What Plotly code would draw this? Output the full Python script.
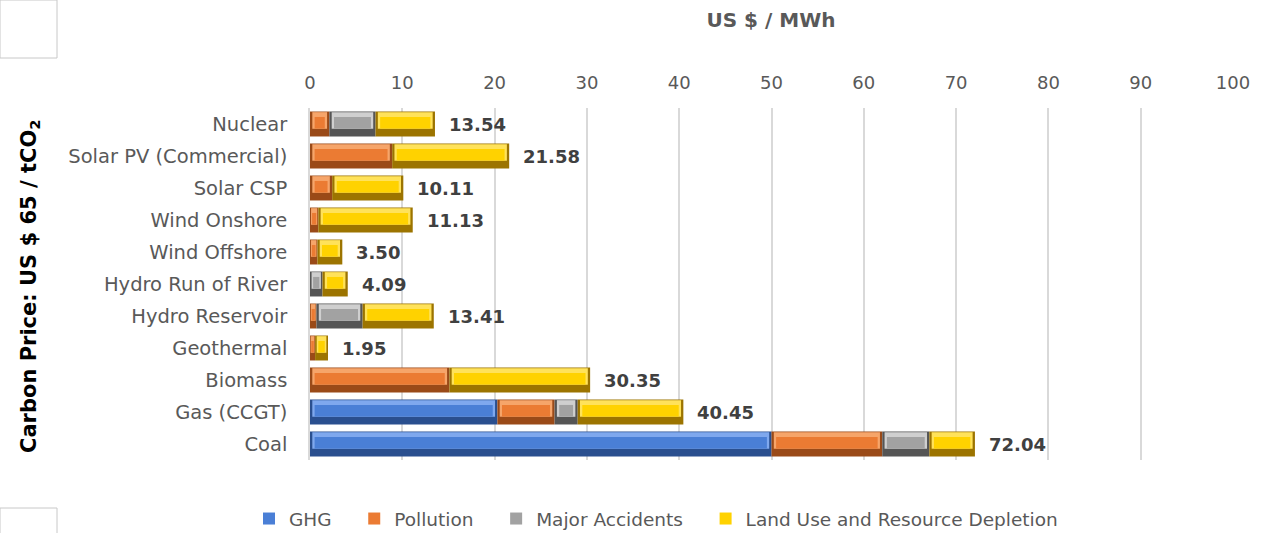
import numpy as np
import plotly.graph_objects as go

categories = ["Nuclear", "Solar PV (Commercial)", "Solar CSP", "Wind Onshore",
              "Wind Offshore", "Hydro Run of River", "Hydro Reservoir",
              "Geothermal", "Biomass", "Gas (CCGT)", "Coal"]
ghg = [0, 0, 0, 0, 0, 0, 0, 0, 0, 20.30, 50.00]
pollution = [2.10, 8.90, 2.40, 0.90, 0.80, 0.00, 0.70, 0.55, 15.10, 6.20, 12.00]
accidents = [5.00, 0, 0, 0, 0, 1.35, 5.00, 0, 0, 2.50, 5.10]
land_use = [6.44, 12.68, 7.71, 10.23, 2.70, 2.74, 7.71, 1.40, 15.25, 11.45, 4.94]
x_ticks = [0, 10, 20, 30, 40, 50, 60, 70, 80, 90, 100]

series = [
    ("GHG", ghg, ("#2A4F8F", "#7FA8EE", "#4A7FD6")),
    ("Pollution", pollution, ("#9A4A18", "#F6A56A", "#EB7B33")),
    ("Major Accidents", accidents, ("#555555", "#CFCFCF", "#A2A2A2")),
    ("Land Use and Resource Depletion", land_use, ("#9C7400", "#FFE25A", "#FFD200")),
]

FONT = "DejaVu Sans"
GREY = "#595959"
PAD = "\u00a0" * 3  # extra room between legend entries

fig = go.Figure()
start = np.zeros(len(categories))
for i, (name, vals, (dark, light, main)) in enumerate(series):
    v = np.array(vals, dtype=float)
    inset = np.minimum(0.5, v / 4)
    # bevelled bar: dark body, light upper strip, main-colour centre band
    fig.add_trace(go.Bar(y=categories, x=v, base=start, orientation="h", width=0.78,
                         marker=dict(color=dark, line=dict(width=0)),
                         showlegend=False, hoverinfo="skip"))
    fig.add_trace(go.Bar(y=categories, x=v - inset, base=start + inset / 2, orientation="h",
                         width=0.52, offset=-0.37,
                         marker=dict(color=light, line=dict(width=0)),
                         showlegend=False, hoverinfo="skip"))
    label = name if i == len(series) - 1 else name + PAD
    fig.add_trace(go.Bar(y=categories, x=v - 2 * inset, base=start + inset, orientation="h",
                         width=0.36, offset=-0.22, name=label,
                         marker=dict(color=main, line=dict(width=0))))
    start = start + v

totals = start
for cat, tot in zip(categories, totals):
    fig.add_annotation(x=tot, y=cat, text=f"<b>{tot:.2f}</b>", showarrow=False,
                       xanchor="left", xshift=12,
                       font=dict(family=FONT, size=18, color="#404040"))

fig.add_annotation(xref="paper", yref="paper", x=(30 - 310) / 923, y=(460 - 287) / 352,
                   text="<b>Carbon Price: US $ 65 / tCO<sub>2</sub></b>", textangle=-90,
                   showarrow=False, xanchor="center", yanchor="middle",
                   font=dict(family=FONT, size=21, color="#000000"))

# spreadsheet cell borders at the left edge
for y0, y1 in [(0, 58), (508, 540)]:
    fig.add_shape(type="rect", xref="paper", yref="paper",
                  x0=(0 - 310) / 923, x1=(57 - 310) / 923,
                  y0=(460 - y1) / 352, y1=(460 - y0) / 352,
                  line=dict(color="#C8C8C8", width=1), layer="below")

fig.update_layout(
    width=1263, height=533,
    margin=dict(l=310, r=30, t=108, b=73, autoexpand=False),
    paper_bgcolor="white", plot_bgcolor="white",
    barmode="overlay",
    font=dict(family=FONT, size=19, color=GREY),
    title=dict(text="<b>US $ / MWh</b>", x=771 / 1263, xanchor="center",
               y=1 - 20 / 533, yanchor="middle",
               font=dict(family=FONT, size=20, color=GREY)),
    xaxis=dict(side="top", range=[0, 100], tickvals=x_ticks, showgrid=True,
               gridcolor="#D9D9D9", gridwidth=1.5, zeroline=False,
               showline=False, ticks="", ticklabelstandoff=14,
               tickfont=dict(family=FONT, size=18, color=GREY)),
    yaxis=dict(categoryorder="array", categoryarray=categories, autorange="reversed",
               showgrid=False, ticks="", ticklabelstandoff=17,
               showline=True, linecolor="#D9D9D9", linewidth=1.5,
               tickfont=dict(family=FONT, size=19.5, color=GREY)),
    legend=dict(orientation="h", x=(249 - 310) / 923, xanchor="left",
                y=(460 - 519) / 352, yanchor="middle",
                font=dict(family=FONT, size=18.5, color=GREY),
                traceorder="normal", itemwidth=30),
)

fig.write_html("out.html")
